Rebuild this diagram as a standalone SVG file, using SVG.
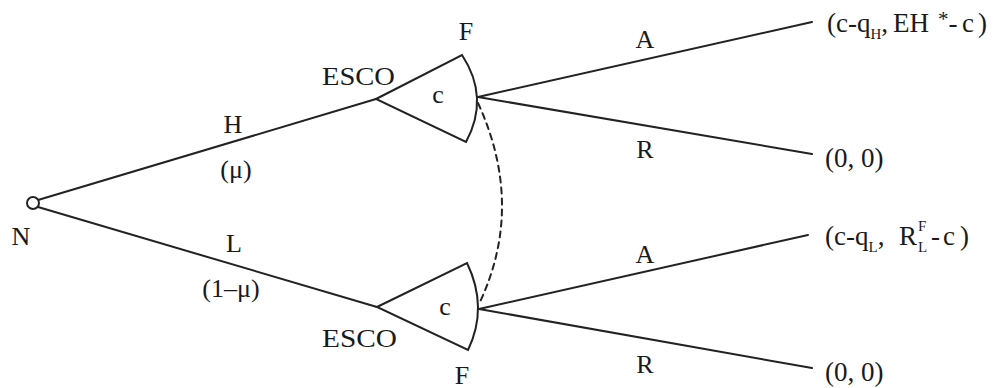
<svg xmlns="http://www.w3.org/2000/svg" width="1006" height="388" viewBox="0 0 1006 388">
<style>
.ln{stroke:#222;stroke-width:2;fill:none;stroke-linecap:round}
.fan{stroke:#222;stroke-width:2;fill:#fff;stroke-linejoin:miter}
.t{font-family:"Liberation Serif","Times New Roman",serif;font-size:26px;fill:#1a1a1a}
.r{font-family:"Liberation Serif","Times New Roman",serif;font-size:27px;fill:#1a1a1a}
.s{font-size:15px}
.a{font-size:21px}
</style>
<rect width="1006" height="388" fill="#fff"/>
<g id="connectors">
<line class="ln" x1="38" y1="200" x2="376" y2="99"/>
<line class="ln" x1="38" y1="207" x2="377" y2="307"/>
<line class="ln" x1="478" y1="97" x2="812" y2="22"/>
<line class="ln" x1="478" y1="97" x2="812" y2="154"/>
<line class="ln" x1="479" y1="309" x2="808" y2="235"/>
<line class="ln" x1="479" y1="309" x2="812" y2="368"/>
<path class="ln" d="M478,103 Q525.5,206.5 479,304" stroke-dasharray="6 5" stroke-width="2.5"/>
<text class="t" x="233" y="133" text-anchor="middle">H</text>
<text class="t" x="236" y="178" text-anchor="middle">(μ)</text>
<text class="t" x="234" y="252" text-anchor="middle">L</text>
<text class="t" x="231" y="297" text-anchor="middle">(1–μ)</text>
<text class="t" x="645" y="48" text-anchor="middle">A</text>
<text class="t" x="645" y="158" text-anchor="middle">R</text>
<text class="t" x="645" y="263" text-anchor="middle">A</text>
<text class="t" x="645" y="373" text-anchor="middle">R</text>
</g>
<g id="node-N">
<circle cx="33" cy="203" r="6" fill="#fff" stroke="#222" stroke-width="2"/>
<text class="t" x="21" y="245" text-anchor="middle">N</text>
</g>
<g id="node-ESCO-upper">
<path class="fan" d="M376,99 L462,55 Q490,97.5 466,142 Z"/>
<text class="t" x="438" y="103" text-anchor="middle">c</text>
<text class="t" x="322" y="85" textLength="73" lengthAdjust="spacingAndGlyphs">ESCO</text>
<text class="t" x="466" y="40" text-anchor="middle">F</text>
</g>
<g id="node-ESCO-lower">
<path class="fan" d="M377,307 L467,263 Q488.5,307.5 468,350 Z"/>
<text class="t" x="445" y="315" text-anchor="middle">c</text>
<text class="t" x="322" y="347" textLength="75" lengthAdjust="spacingAndGlyphs">ESCO</text>
<text class="t" x="462" y="384" text-anchor="middle">F</text>
</g>
<g id="payoff-HA">
<text class="r" x="827" y="32">(c-q<tspan class="s" dy="7">H</tspan><tspan dy="-7">,</tspan><tspan x="893">EH</tspan><tspan x="938" dy="-6" class="a">*</tspan><tspan dy="6">-</tspan><tspan x="962">c</tspan><tspan x="978">)</tspan></text>
</g>
<g id="payoff-HR">
<text class="r" x="825" y="167">(0, 0)</text>
</g>
<g id="payoff-LA">
<text class="r" x="825" y="245">(c-q<tspan class="s" dy="7">L</tspan><tspan dy="-7">,</tspan><tspan x="899">R</tspan><tspan class="s" x="918" dy="-14">F</tspan><tspan class="s" x="918" dy="21">L</tspan><tspan x="931" dy="-7">-</tspan><tspan x="943">c</tspan><tspan x="960">)</tspan></text>
</g>
<g id="payoff-LR">
<text class="r" x="825" y="381">(0, 0)</text>
</g>
</svg>
